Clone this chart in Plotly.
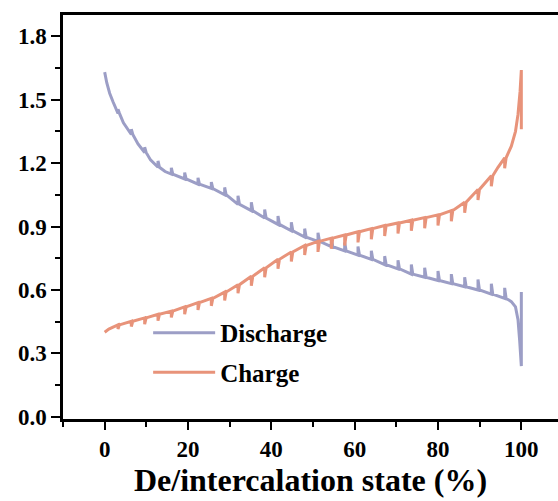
import plotly.graph_objects as go

# ---- Data ----
# Discharge: state (%), voltage (V), relaxation spike peak (V) or None
dis_x = [0, 0.5, 1.2, 2.0, 3.2, 4.5, 6.4, 8.0, 9.6, 11.0, 12.8, 14.5, 16.0, 19.2, 22.4,
         25.6, 28.8, 32.0, 35.2, 38.4, 41.6, 44.8, 48.0, 51.2, 54.4, 57.6, 60.8, 64.0,
         67.2, 70.4, 73.6, 76.8, 80.0, 83.2, 86.4, 89.6, 92.8, 96.0, 97.6, 98.6, 99.2,
         99.6, 100.0, 100.0]
dis_v = [1.63, 1.58, 1.53, 1.49, 1.435, 1.39, 1.335, 1.29, 1.25, 1.215, 1.18, 1.16, 1.148,
         1.125, 1.10, 1.08, 1.05, 1.005, 0.975, 0.94, 0.91, 0.88, 0.85, 0.83, 0.805, 0.785,
         0.765, 0.745, 0.72, 0.70, 0.675, 0.66, 0.645, 0.63, 0.615, 0.60, 0.58, 0.56, 0.545,
         0.52, 0.46, 0.36, 0.24, 0.59]
dis_peak = [None, None, None, None, 1.455, None, 1.36, None, 1.275, None, 1.21, None, 1.178,
            1.155, 1.13, 1.11, 1.085, 1.045, 1.015, 0.98, 0.95, 0.92, 0.89, 0.87, 0.845,
            0.825, 0.805, 0.785, 0.76, 0.74, 0.72, 0.705, 0.69, 0.675, 0.66, 0.65, 0.63,
            0.61, None, None, None, None, None, None]

# Charge: state (%), voltage (V), relaxation spike trough (V) or None
chg_x = [0, 1.0, 3.2, 6.4, 9.6, 12.8, 16.0, 19.2, 22.4, 25.6, 28.8, 32.0, 35.2, 38.4, 41.6,
         44.8, 48.0, 51.2, 54.4, 57.6, 60.8, 64.0, 67.2, 70.4, 73.6, 76.8, 80.0, 83.2, 86.4,
         89.6, 92.8, 94.4, 96.0, 97.6, 98.6, 99.2, 99.7, 100.0, 100.0]
chg_v = [0.40, 0.415, 0.435, 0.452, 0.468, 0.485, 0.50, 0.52, 0.54, 0.56, 0.59, 0.625, 0.665,
         0.705, 0.745, 0.78, 0.81, 0.83, 0.845, 0.86, 0.875, 0.89, 0.905, 0.917, 0.93, 0.942,
         0.955, 0.975, 1.015, 1.075, 1.14, 1.18, 1.225, 1.28, 1.35, 1.43, 1.54, 1.64, 1.36]
chg_trough = [None, None, 0.415, 0.427, 0.438, 0.455, 0.47, 0.485, 0.505, 0.525, 0.55, 0.585,
              0.62, 0.66, 0.70, 0.735, 0.765, 0.78, 0.795, 0.81, 0.825, 0.84, 0.855, 0.867,
              0.88, 0.892, 0.905, 0.925, 0.965, 1.025, 1.09, None, 1.175, None, None, None,
              None, None, None]

x_ticks = [0, 20, 40, 60, 80, 100]
y_ticks = [0.0, 0.3, 0.6, 0.9, 1.2, 1.5, 1.8]
y_tick_text = ["0.0", "0.3", "0.6", "0.9", "1.2", "1.5", "1.8"]

SPIKE_RETURN = 0.35  # drawing offset (in %) for the quick return after a relaxation spike


def with_spikes(xs, vs, extra):
    px, py = [], []
    for x, v, e in zip(xs, vs, extra):
        px.append(x)
        py.append(v)
        if e is not None:
            px += [x, x + SPIKE_RETURN]
            py += [e, v]
    return px, py


dx, dy = with_spikes(dis_x, dis_v, dis_peak)
cx, cy = with_spikes(chg_x, chg_v, chg_trough)

DIS_COL = "#9c9ec6"
CHG_COL = "#e8937a"
FONT = "Liberation Serif"

fig = go.Figure()
fig.add_trace(go.Scatter(x=dx, y=dy, mode="lines", name="Discharge",
                         line=dict(color=DIS_COL, width=3, simplify=False),
                         legendgroup="d"))
fig.add_trace(go.Scatter(x=cx, y=cy, mode="lines", name="Charge",
                         line=dict(color=CHG_COL, width=3, simplify=False),
                         legendgroup="c"))

fig.update_layout(
    width=558, height=501,
    margin=dict(l=63, r=0, t=15, b=82),
    plot_bgcolor="white", paper_bgcolor="white",
    font=dict(family=FONT, color="black", size=22, weight="bold"),
    showlegend=True,
    legend=dict(x=0.172, y=0.27, xanchor="left", yanchor="top",
                bgcolor="rgba(0,0,0,0)", itemwidth=62, tracegroupgap=4,
                font=dict(family=FONT, size=25, weight="bold")),
    xaxis=dict(
        range=[-10, 108.8], tickmode="array", tickvals=x_ticks,
        ticks="outside", ticklen=8, tickwidth=2, tickcolor="black",
        showline=True, linewidth=2.5, linecolor="black", mirror=True,
        showgrid=False, zeroline=False,
        tickfont=dict(family=FONT, size=23, weight="bold"),
        minor=dict(dtick=10, tick0=0, ticks="outside", ticklen=5, tickwidth=2,
                   tickcolor="black", showgrid=False),
        title=dict(text="De/intercalation state (%)", standoff=6,
                   font=dict(family=FONT, size=32, weight="bold")),
    ),
    yaxis=dict(
        range=[-0.01, 1.9], tickmode="array", tickvals=y_ticks, ticktext=y_tick_text,
        ticks="outside", ticklen=9, tickwidth=2, tickcolor="black",
        showline=True, linewidth=2.5, linecolor="black", mirror=False,
        showgrid=False, zeroline=False,
        tickfont=dict(family=FONT, size=23, weight="bold"),
        minor=dict(dtick=0.15, tick0=0, ticks="outside", ticklen=5, tickwidth=2,
                   tickcolor="black", showgrid=False),
    ),
)

fig.write_html("out.html")
